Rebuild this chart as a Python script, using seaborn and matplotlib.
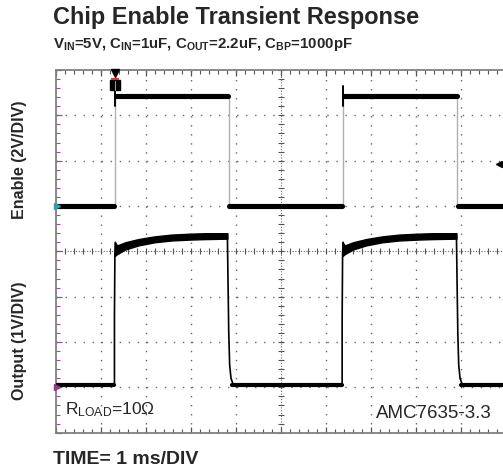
import numpy as np
import pandas as pd
import matplotlib
matplotlib.use("Agg")
import matplotlib.pyplot as plt
import seaborn as sns

sns.set_style("white")
plt.rcParams["font.family"] = ["Liberation Sans", "DejaVu Sans"]
plt.rcParams["mathtext.fontset"] = "custom"
plt.rcParams["mathtext.rm"] = "Liberation Sans"
plt.rcParams["mathtext.bf"] = "Liberation Sans:bold"
plt.rcParams["mathtext.it"] = "Liberation Sans:italic"

# --- data read from the scope capture (time in ms, 1 ms/DIV) ---
# Enable channel (2 V/DIV, ground at division 5)
en_seg_t = [[0.00, 1.31], [1.34, 3.84], [3.86, 6.37], [6.40, 8.92], [8.94, 10.0]]
en_seg_v = [[0.0, 0.0], [4.85, 4.85], [0.0, 0.0], [4.85, 4.85], [0.0, 0.0]]
en_edge_t = [1.32, 3.85, 6.38, 8.93]
en_spike_t = [1.33, 6.39]
en_spike_v = [[4.40, 5.30], [4.40, 5.30]]

# Output channel (1 V/DIV, ground at division 1)
out_low_t = [[0.00, 1.31], [3.93, 6.37], [9.02, 10.0]]
out_low_v = [[0.05, 0.05], [0.05, 0.05], [0.05, 0.05]]
out_rise_t = [[1.31, 1.31, 1.32, 1.33], [6.37, 6.37, 6.38, 6.39]]
out_rise_v = [[0.05, 1.55, 2.95, 3.20], [0.05, 1.55, 2.95, 3.20]]
out_fall_t = [[3.82, 3.83, 3.85, 3.87, 3.90, 3.95], [8.91, 8.92, 8.94, 8.96, 8.99, 9.04]]
out_fall_v = [[3.34, 2.60, 1.20, 0.50, 0.20, 0.06], [3.34, 2.60, 1.20, 0.50, 0.20, 0.06]]
out_band_t = [[1.32, 1.37, 1.55, 1.84, 2.20, 2.58, 3.00, 3.32, 3.82],
              [6.38, 6.43, 6.61, 6.90, 7.26, 7.64, 8.06, 8.38, 8.91]]
out_band_hi = [3.20, 3.13, 3.20, 3.27, 3.33, 3.37, 3.39, 3.40, 3.40]
out_band_lo = [2.90, 2.94, 3.04, 3.13, 3.20, 3.24, 3.26, 3.27, 3.28]

trig_t = 1.32
trig_level_v = 1.84

EN_GND, EN_SCALE = 5.0, 2.0
OUT_GND, OUT_SCALE = 1.0, 1.0


def long_df(ts, vs, gnd, scale):
    rows = []
    for i, (t, v) in enumerate(zip(ts, vs)):
        for tt, vv in zip(t, v):
            rows.append({"t": tt, "y": gnd + vv / scale, "seg": i})
    return pd.DataFrame(rows)


fig = plt.figure(figsize=(5.03, 4.70), dpi=100)
ax = fig.add_axes([55.5 / 503, (470 - 432.7) / 470, 450 / 503, 362.7 / 470])
ax.set_xlim(0, 10)
ax.set_ylim(0, 8)

# grid (scope graticule)
for x in range(1, 10):
    if x == 5:
        continue
    ax.axvline(x, color="#666666", lw=1.0, linestyle=(0, (1.0, 5.5)), zorder=1)
for y in range(1, 8):
    if y == 4:
        continue
    ax.axhline(y, color="#666666", lw=1.0, linestyle=(0, (1.0, 5.5)), zorder=1)
ax.axvline(5, color="#666666", lw=0.8, linestyle=(0, (1, 1.5)), zorder=1)
ax.axhline(4, color="#666666", lw=0.8, linestyle=(0, (1, 1.5)), zorder=1)
sub = np.arange(0, 10.01, 0.2)
ax.plot(sub, np.full_like(sub, 4.0), ls="none", marker="|", ms=4, mew=0.8, color="#555555", zorder=1)
suby = np.arange(0, 8.01, 0.2)
ax.plot(np.full_like(suby, 5.0), suby, ls="none", marker="_", ms=4, mew=0.8, color="#555555", zorder=1)

# enable trace
for t in en_edge_t:
    ax.plot([t, t], [EN_GND, EN_GND + en_seg_v[1][0] / EN_SCALE], color="#b0b0b0", lw=1.0, zorder=2)
en_df = long_df(en_seg_t, en_seg_v, EN_GND, EN_SCALE)
sns.lineplot(data=en_df, x="t", y="y", units="seg", estimator=None, sort=False,
             color="black", linewidth=3.7, ax=ax, zorder=3)
sp_df = long_df([[t, t] for t in en_spike_t], en_spike_v, EN_GND, EN_SCALE)
sns.lineplot(data=sp_df, x="t", y="y", units="seg", estimator=None, sort=False,
             color="black", linewidth=1.4, ax=ax, zorder=3)

# output trace
low_df = long_df(out_low_t, out_low_v, OUT_GND, OUT_SCALE)
sns.lineplot(data=low_df, x="t", y="y", units="seg", estimator=None, sort=False,
             color="black", linewidth=3.0, ax=ax, zorder=3)
edge_df = long_df(out_rise_t + out_fall_t, out_rise_v + out_fall_v, OUT_GND, OUT_SCALE)
sns.lineplot(data=edge_df, x="t", y="y", units="seg", estimator=None, sort=False,
             color="black", linewidth=1.2, ax=ax, zorder=3)
for bt in out_band_t:
    ax.fill_between(bt, OUT_GND + np.array(out_band_lo) / OUT_SCALE,
                    OUT_GND + np.array(out_band_hi) / OUT_SCALE,
                    color="black", lw=1.0, edgecolor="black", zorder=3)

# scope markers
ax.plot([trig_t], [7.94], marker="v", ms=6, color="black", clip_on=False, zorder=5)
ax.plot([trig_t], [7.66], marker="s", ms=6.5, color="black", zorder=5)
ax.plot([trig_t], [7.80], marker="_", ms=6, mew=1.5, color="#e03030", zorder=6)
ax.plot([trig_t, trig_t], [7.55, 7.75], color="#30c0d0", lw=0.8, zorder=6)
ax.plot([9.86], [EN_GND + trig_level_v / EN_SCALE], marker="<", ms=5, color="black", zorder=5)
ax.plot([0.03], [EN_GND], marker=">", ms=4, color="#30a0b0", clip_on=False, zorder=5)
ax.plot([0.03], [OUT_GND], marker=">", ms=4, color="#8a3a8a", clip_on=False, zorder=5)

# frame / ticks
for side in ["left", "top", "bottom"]:
    ax.spines[side].set_color("#808080")
    ax.spines[side].set_linewidth(1.3)
ax.spines["right"].set_visible(False)
ax.set_xticks(range(0, 11))
ax.set_xticks(sub, minor=True)
ax.set_yticks(range(0, 9))
ax.set_yticks(suby, minor=True)
ax.tick_params(which="both", direction="in", top=True, bottom=True, left=True, right=False,
               labelbottom=False, labelleft=False)
ax.tick_params(which="minor", length=3, width=0.8, color="#555555")
ax.tick_params(which="major", length=4, width=0.9, color="#555555")
ax.tick_params(axis="y", which="both", color="#9b4f9b")
ax.set_xlabel("")
ax.set_ylabel("")

# annotations
fig.text(65 / 503, 1 - 414 / 470, "R$_{\\mathrm{LOAD}}$=10Ω", fontsize=12.5, va="baseline")
fig.text(376 / 503, 1 - 418.3 / 470, "AMC7635-3.3", fontsize=13.5, va="baseline")

fig.text(53 / 503, 1 - 24 / 470, "Chip Enable Transient Response", fontsize=16.9,
         fontweight="bold", va="baseline")
fig.text(53 / 503, 1 - 48.3 / 470,
         "V$_{\\mathbf{IN}}$=5V, C$_{\\mathbf{IN}}$=1uF, C$_{\\mathbf{OUT}}$=2.2uF, C$_{\\mathbf{BP}}$=1000pF",
         fontsize=10.8, fontweight="bold", va="baseline")
fig.text(53 / 503, 1 - 464.3 / 470, "TIME= 1 ms/DIV", fontsize=14, fontweight="bold", va="baseline")
fig.text(20 / 503, 1 - 160 / 470, "Enable (2V/DIV)", fontsize=11.5, fontweight="bold",
         rotation=90, ha="center", va="center")
fig.text(20 / 503, 1 - 341 / 470, "Output (1V/DIV)", fontsize=11.5, fontweight="bold",
         rotation=90, ha="center", va="center")

fig.savefig("out.png", dpi=100)
